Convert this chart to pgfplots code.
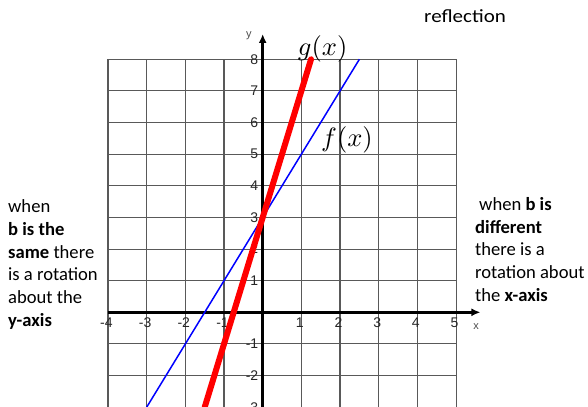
\documentclass[border=0pt]{standalone}
\usepackage{pgfplots}
\pgfplotsset{compat=1.18}
\usetikzlibrary{arrows.meta}
\usepackage{fontspec}
\setmainfont{Carlito}
\newfontfamily\tickfont{Liberation Sans}
\begin{document}
\begin{tikzpicture}
\begin{axis}[
  x=38.67pt, y=31.625pt,
  xmin=-4, xmax=5, ymin=-3, ymax=8,
  hide axis, clip=false,
]
  % square grid
  \pgfplotsinvokeforeach{-4,...,5}{%
    \draw[black!65, line width=1.1pt] (axis cs:#1,-3.2) -- (axis cs:#1,8);}
  \pgfplotsinvokeforeach{-3,...,8}{%
    \draw[black!65, line width=1.1pt] (axis cs:-4,#1) -- (axis cs:5,#1);}
  % coordinate axes
  \draw[black, line width=2.4pt, -{Latex[length=9pt,width=8pt]}] (axis cs:-4,0) -- (axis cs:5.63,0);
  \draw[black, line width=2.4pt, -{Latex[length=9pt,width=8pt]}] (axis cs:0,-3.2) -- (axis cs:0,8.8);
  \node[font=\tickfont\fontsize{11}{12}\selectfont, text=black!70] at (axis cs:-0.36,8.75) {y};
  \node[font=\tickfont\fontsize{11}{12}\selectfont, text=black!70] at (axis cs:5.52,-0.46) {x};
  % tick labels
  \pgfplotsinvokeforeach{-3,-2,-1,1,2,3,4,5,6,7,8}{%
    \node[anchor=east, inner sep=0pt, font=\tickfont\fontsize{14}{15}\selectfont, text=black!85]
      at (axis cs:-0.11,#1) {#1};}
  \pgfplotsinvokeforeach{-4,-3,-2,-1,1,2,3,4,5}{%
    \node[inner sep=0pt, font=\tickfont\fontsize{14}{15}\selectfont, text=black!85]
      at (axis cs:#1-0.04,-0.34) {#1};}
  % f(x) = 2x + 3 and g(x) = 4x + 3
  \addplot[blue, line width=1.5pt] coordinates {(-3,-3) (2.5,8)};
  \addplot[red, line width=6pt, line cap=round] coordinates {(-1.5,-3) (1.25,8)};
  \node[inner sep=0pt] at (axis cs:1.55,8.33) {\scalebox{2.65}{$g(x)$}};
  \node[inner sep=0pt] at (axis cs:2.18,5.45) {\scalebox{2.65}{$f(x)$}};
  \coordinate (TL) at (axis cs:-6.793,9.875);
  \coordinate (BR) at (axis cs:8.412,-2.963);
\end{axis}
\begin{scope}[shift={(TL)}, x=1pt, y=-1pt,
  every node/.style={anchor=base west, inner sep=0pt, font=\fontsize{18.6}{22.7}\selectfont}]
  \node at (424,22.7) {\scalebox{1.13}[1]{reflection}};
  % left note
  \node at (8,212.7) {when};
  \node at (8,235.4) {\textbf{b is the}};
  \node at (8,258.1) {\textbf{same} there};
  \node at (8,280.8) {is a rotation};
  \node at (8,303.5) {about the};
  \node at (8,326.2) {\textbf{y-axis}};
  % right note
  \node at (479,210.5) {when \textbf{b is}};
  \node at (475,233.2) {\textbf{different}};
  \node at (475,255.9) {there is a};
  \node at (475,278.6) {rotation about};
  \node at (475,301.3) {the \textbf{x-axis}};
\end{scope}
\pgfresetboundingbox
\path[use as bounding box] (TL) rectangle (BR);
\end{tikzpicture}
\end{document}
